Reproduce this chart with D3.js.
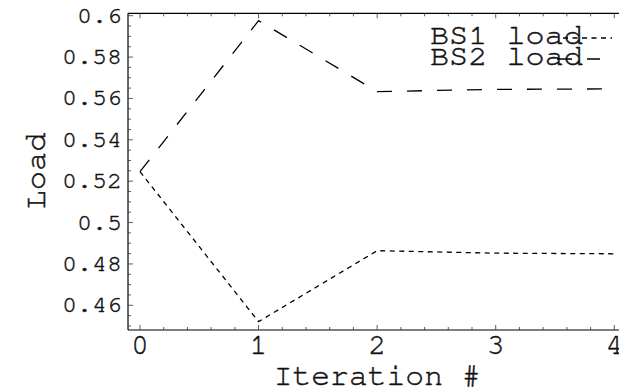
<!DOCTYPE html>
<html>
<head>
<meta charset="utf-8">
<script src="https://cdn.jsdelivr.net/npm/d3@7/dist/d3.min.js"></script>
<style>
  body { margin: 0; background: #fff; }
  svg { display: block; }
  text { font-family: "Nimbus Mono PS", "Nimbus Mono L", "FreeMono", "Courier New", Courier, "Liberation Mono", monospace; fill: #111; stroke: #111; stroke-width: 0.45; }
</style>
</head>
<body>
<svg id="chart" width="619" height="391"></svg>
<script>
// Data
const iterations = [0, 1, 2, 3, 4];
const bs1Load = [0.5246, 0.4521, 0.4864, 0.4852, 0.4849];
const bs2Load = [0.5246, 0.5976, 0.5633, 0.5644, 0.5646];
const yTickValues = [0.46, 0.48, 0.5, 0.52, 0.54, 0.56, 0.58, 0.6];
const yTickLabels = ["0.46", "0.48", "0.5", "0.52", "0.54", "0.56", "0.58", "0.6"];
const xTickValues = [0, 1, 2, 3, 4];
const seriesNames = ["BS1 load", "BS2 load"];

const svg = d3.select("#chart");
const width = +svg.attr("width");

const x = d3.scaleLinear().domain([-0.1012, 4]).range([128, 614.3]);
const y = d3.scaleLinear().domain([0.44806, 0.60116]).range([330, 13.3]);

const plotLeft = x.range()[0], plotBottom = y.range()[0], plotTop = y.range()[1];

// frame lines: left, bottom, top
const frame = svg.append("g").attr("stroke", "#000").attr("stroke-width", 1.2);
frame.append("line").attr("x1", plotLeft).attr("x2", plotLeft).attr("y1", plotTop).attr("y2", plotBottom);
frame.append("line").attr("x1", plotLeft).attr("x2", width).attr("y1", plotBottom).attr("y2", plotBottom);
frame.append("line").attr("x1", plotLeft).attr("x2", width).attr("y1", plotTop).attr("y2", plotTop);

// minor / major ticks
const xMinor = d3.range(0, 4.01, 0.2);
const yMinor = d3.range(0.45, 0.6001, 0.005);
const ticks = svg.append("g").attr("stroke", "#333").attr("stroke-width", 0.8);
xMinor.forEach(v => {
  const major = Math.abs(v - Math.round(v)) < 1e-6;
  const len = major ? 5 : 3;
  ticks.append("line").attr("x1", x(v)).attr("x2", x(v)).attr("y1", plotBottom).attr("y2", plotBottom - len);
  ticks.append("line").attr("x1", x(v)).attr("x2", x(v)).attr("y1", plotTop).attr("y2", plotTop + len);
});
yMinor.forEach(v => {
  const major = Math.abs(v * 50 - Math.round(v * 50)) < 1e-6;
  const len = major ? 5 : 3;
  ticks.append("line").attr("x1", plotLeft).attr("x2", plotLeft + len).attr("y1", y(v)).attr("y2", y(v));
});

// y tick labels
svg.append("g").selectAll("text")
  .data(yTickValues)
  .join("text")
  .attr("x", plotLeft - 6)
  .attr("y", d => y(d) + 7)
  .attr("text-anchor", "end")
  .attr("font-size", 23)
  .attr("textLength", (d, i) => yTickLabels[i].length * 15)
  .attr("lengthAdjust", "spacingAndGlyphs")
  .text((d, i) => yTickLabels[i]);

// x tick labels
svg.append("g").selectAll("text")
  .data(xTickValues)
  .join("text")
  .attr("x", d => x(d))
  .attr("y", plotBottom + 24)
  .attr("text-anchor", "middle")
  .attr("font-size", 29)
  .text(d => d);

// axis titles
svg.append("text")
  .attr("x", x(2))
  .attr("y", 385)
  .attr("text-anchor", "middle")
  .attr("font-size", 31)
  .attr("textLength", 207)
  .attr("lengthAdjust", "spacingAndGlyphs")
  .text("Iteration #");

svg.append("text")
  .attr("transform", "translate(45,171) rotate(-90)")
  .attr("text-anchor", "middle")
  .attr("font-size", 31)
  .attr("textLength", 77)
  .attr("lengthAdjust", "spacingAndGlyphs")
  .text("Load");

// series
const dashes = ["5,4.5", "15,15"];
const series = [bs1Load, bs2Load];
const line = d3.line().x((d, i) => x(iterations[i])).y(d => y(d));
series.forEach((s, k) => {
  svg.append("path")
    .datum(s)
    .attr("d", line)
    .attr("fill", "none")
    .attr("stroke", "#000")
    .attr("stroke-width", 1.3)
    .attr("stroke-dasharray", dashes[k]);
});

// legend
const legendRows = [
  { base: 44, lineY: 38, x1: 563, x2: 612 },
  { base: 65, lineY: 59, x1: 557, x2: 600 }
];
seriesNames.forEach((name, k) => {
  const r = legendRows[k];
  svg.append("text")
    .attr("x", 430)
    .attr("y", r.base)
    .attr("font-size", 28)
    .attr("textLength", 153)
    .attr("lengthAdjust", "spacingAndGlyphs")
    .text(name);
  svg.append("line")
    .attr("x1", r.x1).attr("x2", r.x2)
    .attr("y1", r.lineY).attr("y2", r.lineY)
    .attr("stroke", "#000")
    .attr("stroke-width", 1.3)
    .attr("stroke-dasharray", dashes[k]);
});
</script>
</body>
</html>
